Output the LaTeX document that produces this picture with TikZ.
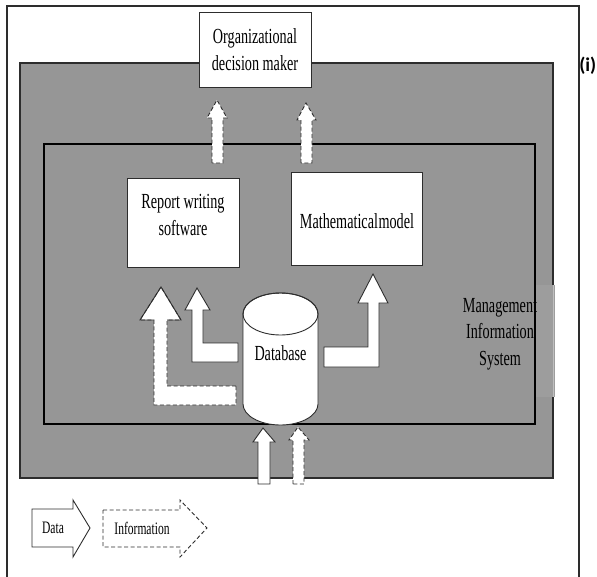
\documentclass[tikz,border=0pt]{standalone}
\usepackage{fontspec}
\setmainfont{Liberation Serif}
\newfontfamily\tnr[FakeStretch=0.66]{Liberation Serif}
\newfontfamily\calb{Carlito}
\definecolor{panel}{RGB}{150,150,150}
\definecolor{strip}{RGB}{157,157,157}
\definecolor{ink}{RGB}{45,45,45}
\begin{document}
\begin{tikzpicture}[x=1pt,y=-1pt,line join=miter,
  blk/.style={fill=white, draw=ink, line width=0.9pt},
  dsh/.style={blk, dash pattern=on 4pt off 2.5pt},
  lbl/.style={font=\tnr\fontsize{21.5}{26.5}\selectfont, align=center, inner sep=0pt, text=black},
  leglbl/.style={font=\tnr\fontsize{17.5}{20}\selectfont, inner sep=0pt, text=black},
  box/.style={draw=ink, fill=white, line width=1pt, inner sep=0pt}]
\useasboundingbox (0,0) rectangle (597,576);
% outer frame
\draw[ink, line width=1.3pt] (7,580) -- (7,6) -- (579,6) -- (579,580);
% grey panel
\draw[fill=panel, draw=ink, line width=1.2pt] (20,63) rectangle (553,478);
\fill[strip] (535.5,285) rectangle (554.5,397);
\draw[black!25, line width=0.6pt] (553.5,285) -- (553.5,397);
% inner system boundary
\draw[black, line width=1.2pt] (44,144) rectangle (535,424);
% boxes
\node[box, minimum width=112pt, minimum height=75pt] (dm) at (255,49.5) {};
\node[box, minimum width=112pt, minimum height=89pt] (rw) at (183,222.5) {};
\node[box, minimum width=131pt, minimum height=93pt] (mm) at (356.5,218.5) {};
% information arrows up to decision maker
\draw[dsh] (212,163) -- (212,118) -- (207,118) -- (217,100) -- (227,118) -- (223,118) -- (223,163) -- cycle;
\draw[dsh] (301,163) -- (301,120) -- (297,120) -- (306,103) -- (316,120) -- (312,120) -- (312,163) -- cycle;
% dashed L arrow (information) to report writing
\draw[dsh] (236,386) -- (167,386) -- (167,320) -- (181,320) -- (161,287) -- (140,320) -- (154,320) -- (154,405) -- (236,405) -- cycle;
\draw[ink, line width=0.9pt] (167,320) -- (181,320) -- (161,287) -- (140,320) -- (154,320);
% solid L arrow (data) to report writing
\draw[blk] (238,343) -- (203,343) -- (203,310) -- (210,310) -- (197,288) -- (185,310) -- (192,310) -- (192,362) -- (238,362) -- cycle;
% solid L arrow (data) to mathematical model
\draw[blk] (324,347) -- (368,347) -- (368,303) -- (358,303) -- (373,274) -- (388,303) -- (379,303) -- (379,367) -- (324,367) -- cycle;
% database cylinder
\path[fill=white, draw=ink, line width=0.9pt] (243,314) -- (243,404)
  arc[start angle=180, end angle=360, x radius=37.5pt, y radius=21pt] -- (318,314)
  arc[start angle=0, end angle=180, x radius=37.5pt, y radius=21pt] -- cycle;
\draw[ink, line width=0.9pt] (280.5,314) ellipse [x radius=37.5pt, y radius=21pt];
\node[lbl] (db) at (280.5,353) {Database};
% inputs from outside
\draw[blk] (258,484) -- (258,442) -- (253,442) -- (263,428) -- (275,442) -- (270,442) -- (270,484) -- cycle;
\draw[dsh] (293,484) -- (293,440) -- (289,440) -- (298,427) -- (309,440) -- (304,440) -- (304,484) -- cycle;
% labels
\node[lbl] (dmt) at (255,49.5) {Organizational\\decision maker};
\node[lbl] (rwt) at (183,215) {Report writing\\software};
\node[lbl] (mmt) at (357,221) {Mathematical\hspace{-3pt} model};
\node[lbl] (mis) at (500,334) {Management\\Information\\System};
\node[font=\calb\bfseries\fontsize{19.5}{22}\selectfont, inner sep=0pt, anchor=east] (tag) at (596.5,66) {(i)};
% legend
\draw[blk] (32,509) -- (73,509) -- (73,500) -- (90,528) -- (73,557) -- (73,547) -- (32,547) -- cycle;
\node[leglbl] (ldata) at (53,528) {Data};
\draw[dsh] (103,510) -- (180,510) -- (180,500) -- (207,528) -- (180,557) -- (180,547) -- (103,547) -- cycle;
\node[leglbl] (linfo) at (142,528) {Information};
\end{tikzpicture}
\end{document}
